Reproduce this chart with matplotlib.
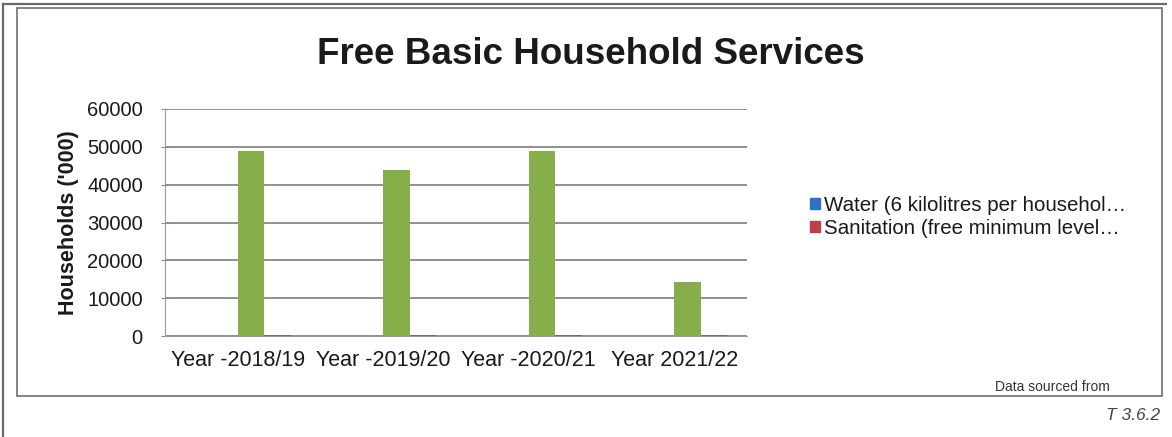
import numpy as np
import matplotlib.pyplot as plt
from matplotlib.patches import Rectangle, Patch
from matplotlib.lines import Line2D

plt.rcParams['font.family'] = ['Liberation Sans', 'DejaVu Sans']

years = ['Year -2018/19', 'Year -2019/20', 'Year -2020/21', 'Year 2021/22']
water = [0, 0, 0, 0]
sanitation = [0, 0, 0, 0]
electricity = [49000, 43900, 49000, 14200]
refuse = [300, 250, 200, 300]

series = [water, sanitation, electricity, refuse]
colors = ['#2F6FC4', '#C0404A', '#86AE4A', '#6E6E72']
legend_names = ['Water (6 kilolitres per househol\u2026',
                'Sanitation (free minimum level\u2026']

W, H = 1172, 437
fig = plt.figure(figsize=(W / 100, H / 100), dpi=100)

# frame lines around the chart
def px_rect(x0, y0, x1, y1, **kw):
    fig.patches.append(Rectangle((x0 / W, 1 - y1 / H), (x1 - x0) / W, (y1 - y0) / H,
                                 transform=fig.transFigure, fill=False, **kw))

fig.lines.append(Line2D([3 / W, 3 / W], [0, 1 - 4 / H], transform=fig.transFigure,
                        color='#6a6a6a', lw=1.6))
fig.lines.append(Line2D([3 / W, 1166 / W], [1 - 4 / H, 1 - 4 / H], transform=fig.transFigure,
                        color='#6a6a6a', lw=1.6))
px_rect(17, 8, 1162, 396, edgecolor='#7a7a7a', lw=1.3)

ax = fig.add_axes([165 / W, 1 - 336 / H, (747 - 165) / W, (336 - 109) / H])

x = np.arange(len(years))
w = 1 / 5.5
for i, (vals, c) in enumerate(zip(series, colors)):
    ax.bar(x + (i - 1.5) * w, vals, width=w, color=c, zorder=3)

ax.set_xlim(-0.5, len(years) - 0.5)
ax.set_ylim(0, 60000)
ax.set_yticks(np.arange(0, 60001, 10000))
ax.set_xticks(x)
ax.set_xticklabels(years, fontsize=15.5, color='#1a1a1a')
ax.tick_params(axis='y', labelsize=14.5, colors='#8a8a8a', direction='inout', length=6,
               pad=13, labelcolor='#1a1a1a')
ax.tick_params(axis='x', length=0, pad=10)
ax.yaxis.grid(True, color='#888888', lw=1.3, zorder=0)
for s in ['top', 'right']:
    ax.spines[s].set_visible(False)
ax.spines['left'].set_color('#9a9a9a')
ax.spines['bottom'].set_color('#9a9a9a')
ax.set_ylabel("Households ('000)", fontsize=15.5, fontweight='bold', color='#1a1a1a',
              labelpad=6)

fig.text(591 / W, 1 - 55 / H, 'Free Basic Household Services', fontsize=26.5,
         fontweight='bold', ha='center', va='center', color='#1a1a1a')

handles = [Patch(color=c) for c in colors[:2]]
fig.legend(handles, legend_names, loc='center left', bbox_to_anchor=(792 / W, 1 - 217 / H),
           frameon=False, fontsize=14.8, handlelength=0.45, handleheight=0.45,
           handletextpad=0.2, labelspacing=0.2, labelcolor='#1a1a1a')

fig.text(1110 / W, 1 - 387 / H, 'Data sourced from', fontsize=10, ha='right',
         va='center', color='#333333')
fig.text(1160 / W, 1 - 415 / H, 'T 3.6.2', fontsize=12.5, style='italic', ha='right',
         va='center', color='#444444')

fig.savefig('out.png', dpi=100)
